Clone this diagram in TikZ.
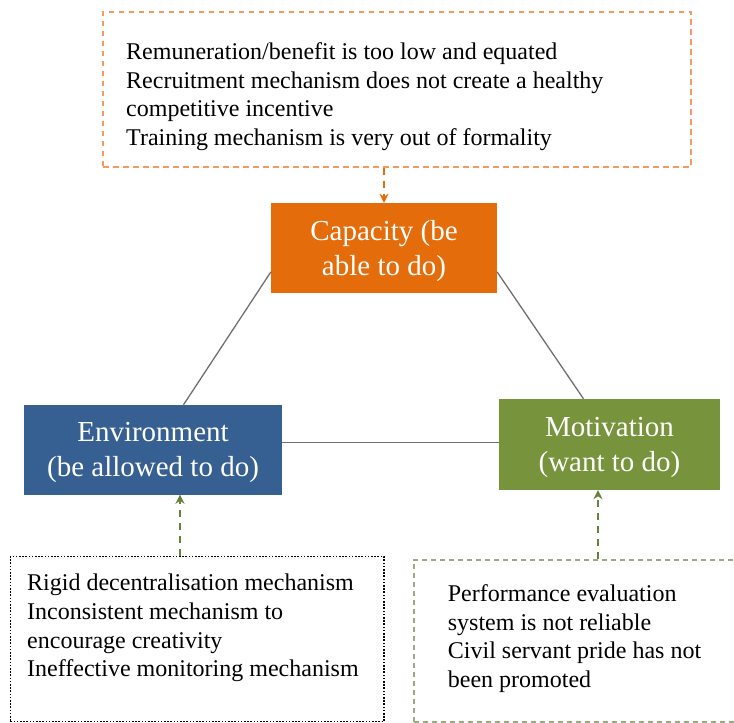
\documentclass[tikz,border=0pt]{standalone}
\usepackage{fontspec}
\setmainfont{Liberation Serif}
\usetikzlibrary{arrows.meta}
\definecolor{capfill}{HTML}{E46C0A}
\definecolor{envfill}{HTML}{376092}
\definecolor{motfill}{HTML}{77933C}
\definecolor{capline}{HTML}{F59A5A}
\definecolor{motline}{HTML}{9BAA85}
\definecolor{motarrow}{HTML}{66813A}
\definecolor{linkgray}{HTML}{707070}
\begin{document}
\begin{tikzpicture}[x=1pt,y=-1pt,>={Stealth[length=9pt,width=9pt]}]
\tikzset{
base/.style={inner sep=0pt},
factor/.style={base,text=white,align=center,text depth=-5pt,font=\fontsize{29}{34.8}\selectfont},
frame/.style={base,anchor=north west,line width=2pt},
note/.style={base,anchor=north west,align=left,font=\fontsize{24}{28.6}\selectfont},
link/.style={draw=linkgray,line width=1.3pt},
feed/.style={->,draw,line width=2.2pt,dash pattern=on 7pt off 6pt}}
\clip (0,0) rectangle (734,723);
% three factors
\node[factor,fill=capfill,minimum width=226pt,minimum height=90pt] at (384,248) (cap) {Capacity (be\\able to do)};
\node[factor,fill=envfill,minimum width=258pt,minimum height=89.5pt] at (153,449.75) (env) {Environment\\(be allowed to do)};
\node[factor,fill=motfill,minimum width=221pt,minimum height=91pt] at (609.5,444.5) (mot) {Motivation\\(want to do)};
\path[link] ([yshift=-24pt]cap.west) -- ([xshift=30.5pt]env.north);
\path[link] ([yshift=-24pt]cap.east) -- ([xshift=-26pt]mot.north);
\path[link] ([yshift=7.5pt]env.east) -- ([yshift=7.5pt]env.east -| mot.west);
% causes
\node[frame,draw=capline,dash pattern=on 5.5pt off 4.5pt,minimum width=588pt,minimum height=155pt] at (102,10.5) (capbox) {};
\node[note] at (126,42.5) (captext) {Remuneration/benefit is too low and equated\\Recruitment mechanism does not create a healthy\\competitive incentive\\Training mechanism is very out of formality};
\node[frame,draw=black,line width=1.6pt,dash pattern=on 1.6pt off 1.6pt,minimum width=373.8pt,minimum height=165pt] at (9.5,555.7) (envbox) {};
\node[note] at (27,574) (envtext) {Rigid decentralisation mechanism\\Inconsistent mechanism to\\encourage creativity\\Ineffective monitoring mechanism};
\node[frame,draw=motline,dash pattern=on 5pt off 4pt,minimum width=340pt,minimum height=161.7pt] at (412.7,559) (motbox) {};
\node[note] at (447.7,584.5) (mottext) {Performance evaluation\\system is not reliable\\Civil servant pride has not\\been promoted};
\path[feed,capfill] (cap.north |- capbox.south) -- (cap.north);
\path[feed,motarrow] ([xshift=27pt]env.south |- envbox.north) -- ([xshift=27pt]env.south);
\path[feed,motarrow] ([xshift=-11.5pt]mot.south |- motbox.north) -- ([xshift=-11.5pt]mot.south);
\end{tikzpicture}
\end{document}
